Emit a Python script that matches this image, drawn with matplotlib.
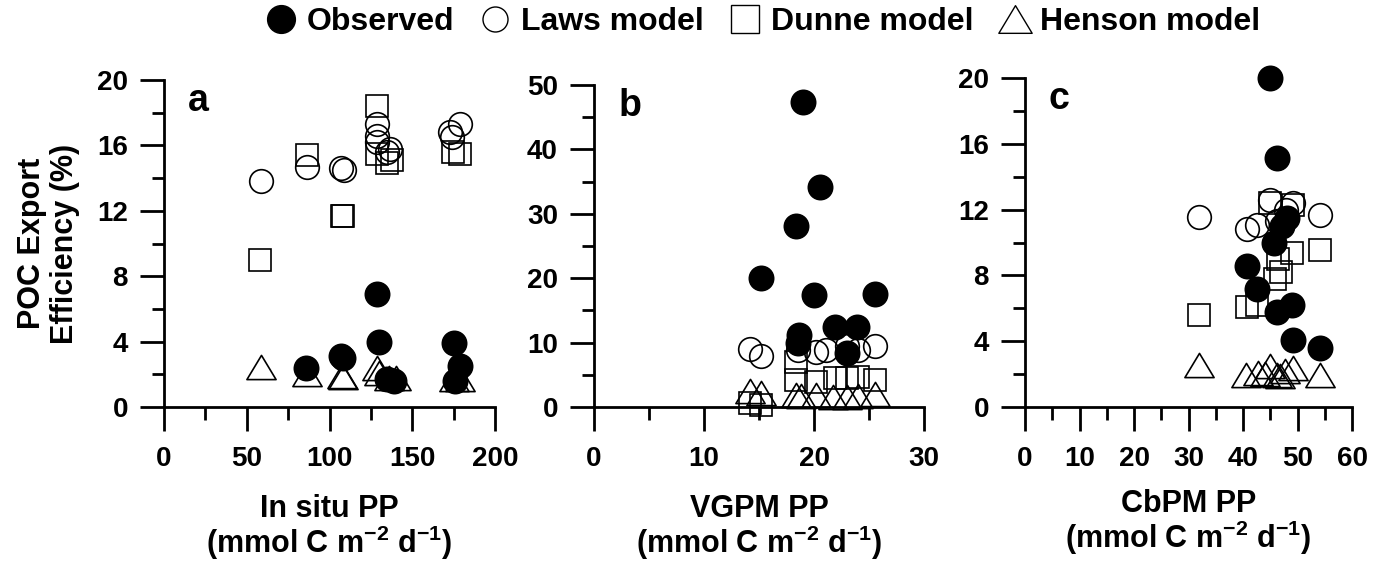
import matplotlib
matplotlib.use("Agg")
import matplotlib.pyplot as plt
from matplotlib.lines import Line2D
from matplotlib.path import Path
from matplotlib.ticker import MultipleLocator

plt.rcParams['font.family'] = ['Liberation Sans', 'DejaVu Sans']
plt.rcParams['font.weight'] = 'bold'
plt.rcParams['mathtext.fontset'] = 'custom'
plt.rcParams['mathtext.rm'] = 'Liberation Sans:bold'
plt.rcParams['mathtext.bf'] = 'Liberation Sans:bold'
plt.rcParams['mathtext.default'] = 'bf'

# ---------------- data ----------------
# Panel a: In situ PP
obs_x_a = [86, 107, 108, 129, 130, 135, 139, 175, 179, 176]
obs_y_a = [2.4, 3.1, 3.0, 6.9, 4.0, 1.7, 1.6, 3.9, 2.5, 1.6]
laws_x_a = [58.4, 86.2, 107, 108.5, 129, 129, 129, 136.5, 135, 173, 179, 174]
laws_y_a = [13.8, 14.7, 14.6, 14.5, 17.3, 16.6, 16.2, 15.8, 15.6, 16.8, 17.3, 16.5]
dunne_x_a = [58, 86.2, 107.4, 108.4, 129, 129, 135, 137.6, 174.8, 178.9]
dunne_y_a = [9.0, 15.4, 11.7, 11.7, 18.4, 15.5, 14.9, 15.1, 15.6, 15.5]
henson_x_a = [58.4, 86.2, 107.4, 108.4, 129, 130, 136, 140, 175, 179]
henson_y_a = [2.45, 2.0, 1.9, 1.85, 2.4, 2.1, 1.8, 1.8, 1.7, 1.7]

# Panel b: VGPM PP
obs_x_b = [19.0, 20.5, 18.4, 15.2, 20.0, 25.5, 21.9, 23.9, 18.6, 18.5, 23.0]
obs_y_b = [47.4, 34.1, 28.1, 20.1, 17.4, 17.5, 12.5, 12.5, 11.2, 10.0, 8.4]
laws_x_b = [14.2, 15.2, 18.5, 20.2, 21.1, 23.0, 24.0, 25.5]
laws_y_b = [9.0, 7.9, 8.8, 8.6, 8.8, 9.4, 8.8, 9.5]
dunne_x_b = [14.2, 15.2, 18.4, 18.4, 20.2, 21.9, 23.0, 24.0, 25.5]
dunne_y_b = [0.6, 0.3, 7.0, 4.2, 3.9, 4.5, 4.5, 4.7, 4.2]
henson_x_b = [14.2, 15.2, 18.4, 18.8, 20.2, 21.7, 23.0, 24.0, 25.5]
henson_y_b = [2.5, 2.1, 1.8, 1.7, 1.8, 1.6, 1.6, 1.7, 2.0]

# Panel c: CbPM PP
obs_x_c = [45.0, 46.2, 40.8, 42.6, 46.2, 48.9, 49.2, 54.1, 45.6, 47.1, 48.0]
obs_y_c = [20.0, 15.15, 8.6, 7.2, 5.8, 6.2, 4.1, 3.6, 10.0, 11.0, 11.5]
laws_x_c = [32.0, 40.7, 42.5, 45.0, 49.2, 54.1, 47.8, 46.2]
laws_y_c = [11.55, 10.8, 11.05, 12.6, 12.4, 11.7, 12.0, 11.3]
dunne_x_c = [32.0, 40.8, 42.5, 45.9, 46.4, 48.9, 54.1, 45.0, 49.2, 47.0]
dunne_y_c = [5.6, 6.1, 6.2, 7.8, 9.0, 9.35, 9.55, 12.4, 12.3, 8.2]
henson_x_c = [32.0, 40.5, 42.7, 45.0, 46.2, 47.7, 49.2, 54.1, 44.0, 46.8]
henson_y_c = [2.55, 1.95, 2.05, 2.5, 1.95, 2.2, 2.4, 1.95, 2.0, 1.9]

panel_letters = ['a', 'b', 'c']
xlabels = ['In situ PP\n(mmol C m$^{-2}$ d$^{-1}$)',
           'VGPM PP\n(mmol C m$^{-2}$ d$^{-1}$)',
           'CbPM PP\n(mmol C m$^{-2}$ d$^{-1}$)']
ylabel = 'POC Export\nEfficiency (%)'
legend_labels = ['Observed', 'Laws model', 'Dunne model', 'Henson model']

# ---------------- figure ----------------
fig = plt.figure(figsize=(13.89, 5.69), dpi=100)
W, H = 1389, 569
def box(l, r, t, b):
    return [l / W, 1 - b / H, (r - l) / W, (b - t) / H]

axes = [fig.add_axes(box(164, 495, 80, 407)),
        fig.add_axes(box(594, 924, 85, 407)),
        fig.add_axes(box(1025, 1352, 78, 407))]

tri = Path([(0, 0.83), (-1, -0.83), (1, -0.83), (0, 0.83)],
           [Path.MOVETO, Path.LINETO, Path.LINETO, Path.CLOSEPOLY])
ms_c, ms_s, ms_t = 17, 16.5, 21
lw = 1.2

data = [
    (obs_x_a, obs_y_a, laws_x_a, laws_y_a, dunne_x_a, dunne_y_a, henson_x_a, henson_y_a),
    (obs_x_b, obs_y_b, laws_x_b, laws_y_b, dunne_x_b, dunne_y_b, henson_x_b, henson_y_b),
    (obs_x_c, obs_y_c, laws_x_c, laws_y_c, dunne_x_c, dunne_y_c, henson_x_c, henson_y_c),
]
xlims = [(0, 200), (0, 30), (0, 60)]
ylims = [(0, 20), (0, 50), (0, 20)]
xmaj = [50, 10, 10]
xmin = [25, 5, 5]
ymaj = [4, 10, 4]
ymin = [2, 5, 2]
xlabelpads = [16, 16, 12]

for i, ax in enumerate(axes):
    ox, oy, lx, ly, dx, dy, hx, hy = data[i]
    ax.plot(hx, hy, ls='none', marker=tri, ms=ms_t, mfc='none', mec='black', mew=lw, clip_on=False)
    ax.plot(dx, dy, ls='none', marker='s', ms=ms_s, mfc='none', mec='black', mew=lw, clip_on=False)
    ax.plot(lx, ly, ls='none', marker='o', ms=ms_c, mfc='none', mec='black', mew=lw, clip_on=False)
    ax.plot(ox, oy, ls='none', marker='o', ms=ms_c + 0.5, mfc='black', mec='black', mew=lw, clip_on=False)
    ax.set_xlim(*xlims[i])
    ax.set_ylim(*ylims[i])
    ax.xaxis.set_major_locator(MultipleLocator(xmaj[i]))
    ax.xaxis.set_minor_locator(MultipleLocator(xmin[i]))
    ax.yaxis.set_major_locator(MultipleLocator(ymaj[i]))
    ax.yaxis.set_minor_locator(MultipleLocator(ymin[i]))
    for s in ['top', 'right']:
        ax.spines[s].set_visible(False)
    for s in ['left', 'bottom']:
        ax.spines[s].set_linewidth(2)
    ax.tick_params(which='major', direction='out', length=17, width=2, labelsize=20, pad=9)
    ax.tick_params(axis='x', which='major', pad=11)
    ax.tick_params(which='minor', direction='out', length=9, width=2)
    for lab in ax.get_xticklabels() + ax.get_yticklabels():
        lab.set_fontweight('bold')
    ax.set_xlabel(xlabels[i], fontsize=22, fontweight='bold', labelpad=xlabelpads[i], linespacing=1.0)
    ax.text(0.073, 0.99, panel_letters[i], transform=ax.transAxes, fontsize=27,
            fontweight='bold', ha='left', va='top')

axes[0].set_ylabel(ylabel, fontsize=22, fontweight='bold', labelpad=12, linespacing=1.15)

handles = [
    Line2D([], [], ls='none', marker='o', ms=20, mfc='black', mec='black'),
    Line2D([], [], ls='none', marker='o', ms=18, mfc='none', mec='black', mew=1),
    Line2D([], [], ls='none', marker='s', ms=20, mfc='none', mec='black', mew=1),
    Line2D([], [], ls='none', marker=tri, ms=24, mfc='none', mec='black', mew=1),
]
leg = fig.legend(handles, legend_labels, loc='center', bbox_to_anchor=(0.549, 0.961), ncol=4,
                 frameon=False, handlelength=1.0, handletextpad=0.3,
                 columnspacing=0.8, prop={'weight': 'bold', 'size': 23})

fig.savefig('out.png', dpi=100)
